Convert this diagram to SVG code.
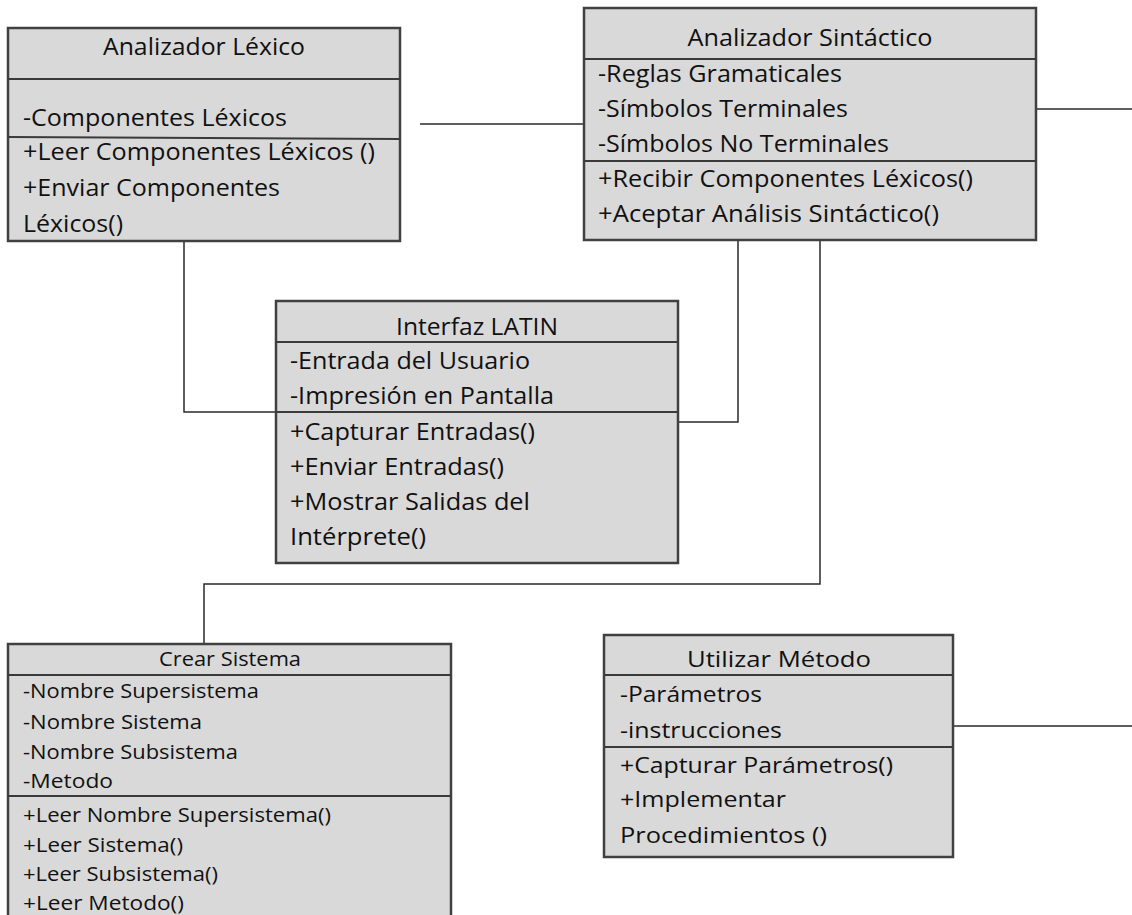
<svg xmlns="http://www.w3.org/2000/svg" width="1132" height="915" viewBox="0 0 1132 915">
<style>
.box{fill:#d9d9d9;stroke:#404040;stroke-width:2.5}
.div{stroke:#3a3a3a;stroke-width:2;fill:none}
.t{font-family:"Open Sans","Liberation Sans",sans-serif;font-size:23px;fill:#111111}
.s{font-size:19.5px}
.u{font-size:22px}
.c{text-anchor:middle}
.con{stroke:#2a2a2a;stroke-width:1.5;fill:none}
</style>
<rect width="1132" height="915" fill="#ffffff"/>
<g id="connectors">
<path class="con" d="M420 124 H584"/>
<path class="con" d="M1036 109 H1132"/>
<path class="con" d="M184 241 V412 H276"/>
<path class="con" d="M738 240 V422 H678"/>
<path class="con" d="M820 240 V584 H204 V644"/>
<path class="con" d="M953 726 H1132"/>
</g>
<g id="analizador-lexico">
<rect class="box" x="8" y="28" width="392" height="213"/>
<line class="div" x1="8" y1="79" x2="400" y2="79"/>
<line class="div" x1="8" y1="137" x2="400" y2="139"/>
<text class="t c" x="204" y="55" textLength="202" lengthAdjust="spacingAndGlyphs">Analizador Léxico</text>
<text class="t" x="23" y="126" textLength="264" lengthAdjust="spacingAndGlyphs">-Componentes Léxicos</text>
<text class="t" x="23" y="160" textLength="352" lengthAdjust="spacingAndGlyphs">+Leer Componentes Léxicos ()</text>
<text class="t" x="23" y="196" textLength="257" lengthAdjust="spacingAndGlyphs">+Enviar Componentes</text>
<text class="t" x="23" y="232" textLength="100" lengthAdjust="spacingAndGlyphs">Léxicos()</text>
</g>
<g id="analizador-sintactico">
<rect class="box" x="584" y="8" width="452" height="232"/>
<line class="div" x1="584" y1="59" x2="1036" y2="59"/>
<line class="div" x1="584" y1="161" x2="1036" y2="161"/>
<text class="t c" x="810" y="46" textLength="245" lengthAdjust="spacingAndGlyphs">Analizador Sintáctico</text>
<text class="t" x="598" y="82" textLength="244" lengthAdjust="spacingAndGlyphs">-Reglas Gramaticales</text>
<text class="t" x="598" y="117" textLength="250" lengthAdjust="spacingAndGlyphs">-Símbolos Terminales</text>
<text class="t" x="598" y="152" textLength="291" lengthAdjust="spacingAndGlyphs">-Símbolos No Terminales</text>
<text class="t" x="598" y="187" textLength="375" lengthAdjust="spacingAndGlyphs">+Recibir Componentes Léxicos()</text>
<text class="t" x="598" y="222" textLength="341" lengthAdjust="spacingAndGlyphs">+Aceptar Análisis Sintáctico()</text>
</g>
<g id="interfaz-latin">
<rect class="box" x="276" y="301" width="402" height="262"/>
<line class="div" x1="276" y1="342" x2="678" y2="342"/>
<line class="div" x1="276" y1="412" x2="678" y2="412"/>
<text class="t c" x="477" y="335" textLength="162" lengthAdjust="spacingAndGlyphs">Interfaz LATIN</text>
<text class="t" x="290" y="369" textLength="240" lengthAdjust="spacingAndGlyphs">-Entrada del Usuario</text>
<text class="t" x="290" y="404" textLength="264" lengthAdjust="spacingAndGlyphs">-Impresión en Pantalla</text>
<text class="t" x="290" y="440" textLength="245" lengthAdjust="spacingAndGlyphs">+Capturar Entradas()</text>
<text class="t" x="290" y="475" textLength="214" lengthAdjust="spacingAndGlyphs">+Enviar Entradas()</text>
<text class="t" x="290" y="510" textLength="240" lengthAdjust="spacingAndGlyphs">+Mostrar Salidas del</text>
<text class="t" x="290" y="545" textLength="136" lengthAdjust="spacingAndGlyphs">Intérprete()</text>
</g>
<g id="crear-sistema">
<rect class="box" x="8" y="644" width="443" height="290"/>
<line class="div" x1="8" y1="675" x2="451" y2="675"/>
<line class="div" x1="8" y1="796" x2="451" y2="796"/>
<text class="t s c" x="230" y="666" textLength="142" lengthAdjust="spacingAndGlyphs">Crear Sistema</text>
<text class="t s" x="23" y="698" textLength="236" lengthAdjust="spacingAndGlyphs">-Nombre Supersistema</text>
<text class="t s" x="23" y="729" textLength="179" lengthAdjust="spacingAndGlyphs">-Nombre Sistema</text>
<text class="t s" x="23" y="759" textLength="215" lengthAdjust="spacingAndGlyphs">-Nombre Subsistema</text>
<text class="t s" x="23" y="788" textLength="90" lengthAdjust="spacingAndGlyphs">-Metodo</text>
<text class="t s" x="23" y="822" textLength="308" lengthAdjust="spacingAndGlyphs">+Leer Nombre Supersistema()</text>
<text class="t s" x="23" y="852" textLength="160" lengthAdjust="spacingAndGlyphs">+Leer Sistema()</text>
<text class="t s" x="23" y="881" textLength="195" lengthAdjust="spacingAndGlyphs">+Leer Subsistema()</text>
<text class="t s" x="23" y="910" textLength="161" lengthAdjust="spacingAndGlyphs">+Leer Metodo()</text>
</g>
<g id="utilizar-metodo">
<rect class="box" x="604" y="635" width="349" height="222"/>
<line class="div" x1="604" y1="675" x2="953" y2="675"/>
<line class="div" x1="604" y1="747" x2="953" y2="747"/>
<text class="t u c" x="779" y="667" textLength="184" lengthAdjust="spacingAndGlyphs">Utilizar Método</text>
<text class="t u" x="620" y="702" textLength="142" lengthAdjust="spacingAndGlyphs">-Parámetros</text>
<text class="t u" x="620" y="738" textLength="162" lengthAdjust="spacingAndGlyphs">-instrucciones</text>
<text class="t u" x="620" y="773" textLength="273" lengthAdjust="spacingAndGlyphs">+Capturar Parámetros()</text>
<text class="t u" x="620" y="807" textLength="166" lengthAdjust="spacingAndGlyphs">+Implementar</text>
<text class="t u" x="620" y="843" textLength="207" lengthAdjust="spacingAndGlyphs">Procedimientos ()</text>
</g>
</svg>
